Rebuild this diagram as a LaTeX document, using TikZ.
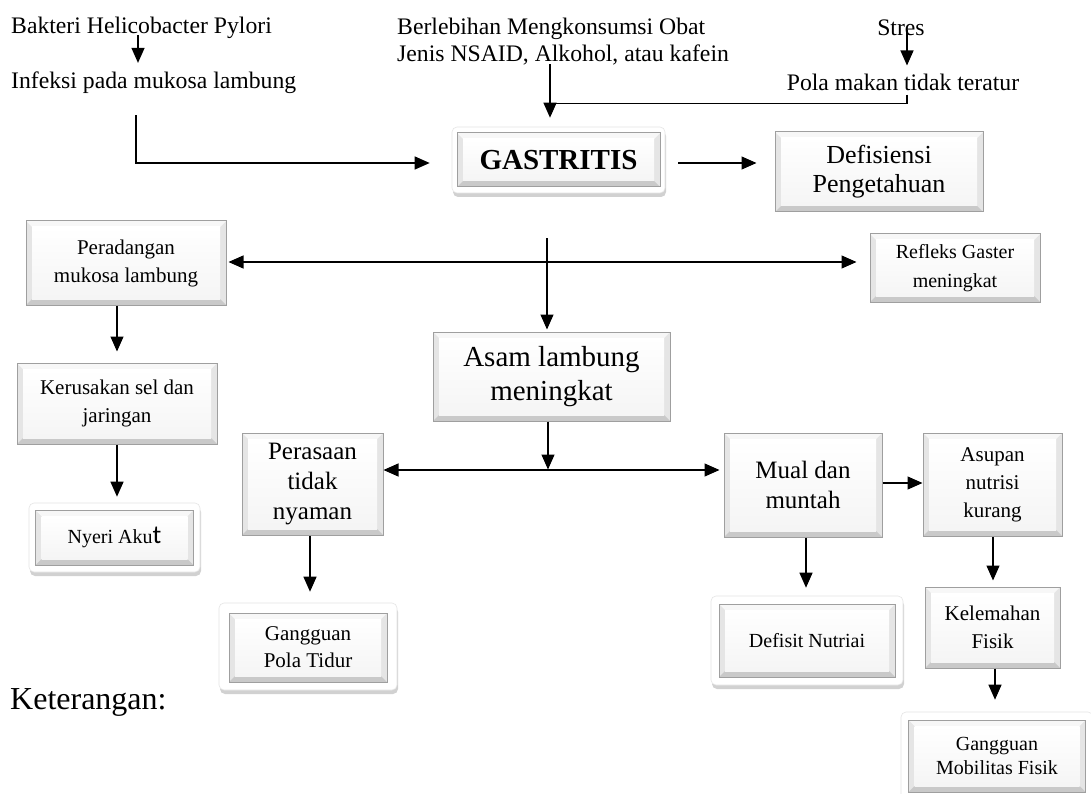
\documentclass[tikz,border=0pt]{standalone}
\usepackage{fontspec}
\setmainfont{Liberation Serif}
\newfontfamily\carl{Carlito}
\usetikzlibrary{arrows.meta,calc,shadows}
\begin{document}
\begin{tikzpicture}[x=1pt,y=-1pt,
  arr/.style={line width=1.2pt,-{Triangle[length=15pt,width=13pt]}},
  darr/.style={line width=1.2pt,{Triangle[length=15pt,width=13pt]}-{Triangle[length=15pt,width=13pt]}},
  ln/.style={line width=1.2pt},
  txt/.style={inner sep=0pt,font=\fontsize{23.7}{27}\selectfont},
  bev/.style={rectangle,draw=gray!75,line width=1pt,inner sep=0pt,align=center,
    path picture={
      \fill[gray!20] (path picture bounding box.south west) rectangle (path picture bounding box.north east);
      \fill[gray!42] (path picture bounding box.south west) -- (path picture bounding box.south east) -- ([shift={(-6pt,6pt)}]path picture bounding box.south east) -- ([shift={(6pt,6pt)}]path picture bounding box.south west) -- cycle;
      \fill[gray!6] (path picture bounding box.north west) -- (path picture bounding box.north east) -- ([shift={(-6pt,-6pt)}]path picture bounding box.north east) -- ([shift={(6pt,-6pt)}]path picture bounding box.north west) -- cycle;
      \shade[top color=white,bottom color=gray!8] ([shift={(6pt,6pt)}]path picture bounding box.south west) rectangle ([shift={(-6pt,-6pt)}]path picture bounding box.north east);
    }},
  frm/.style={rectangle,rounded corners=5pt,fill=white,draw=gray!20,line width=0.6pt,inner sep=0pt,
    drop shadow={shadow xshift=1pt,shadow yshift=-4pt,opacity=0.45,fill=gray!80}},
  f20/.style={font=\fontsize{20}{24}\selectfont},
  f21/.style={font=\fontsize{21}{28}\selectfont},
  f25/.style={font=\fontsize{25}{30}\selectfont},
]
\useasboundingbox (0,0) rectangle (1091,794);
\fill[white] (0,0) rectangle (1091,794);

% top texts
\node[txt,anchor=west] (bak) at (11,28) {Bakteri Helicobacter Pylori};
\node[txt,anchor=west] (inf) at (11,83) {Infeksi pada mukosa lambung};
\node[txt,anchor=west,align=left] (obat) at (397,41.5) {Berlebihan Mengkonsumsi Obat\\Jenis NSAID, Alkohol, atau kafein};
\node[txt] (stres) at (901,28) {Stres};
\node[txt] (pola) at (903,82) {Pola makan tidak teratur};

% GASTRITIS
\node[frm,minimum width=213pt,minimum height=66pt] (gasf) at (558.5,160) {};
\node[bev,minimum width=203pt,minimum height=54pt,font=\bfseries\fontsize{29}{34}\selectfont] (gas) at (558.5,160) {GASTRITIS};

% plain boxes
\node[bev,minimum width=208pt,minimum height=80pt,font=\fontsize{26}{29}\selectfont] (def) at (879,172) {Defisiensi\\Pengetahuan};
\node[bev,f21,minimum width=200pt,minimum height=84pt] (per) at (126,263) {Peradangan\\mukosa lambung};
\node[bev,minimum width=170pt,minimum height=68pt,font=\fontsize{20}{29}\selectfont] (ref) at (955,268) {Refleks Gaster\\meningkat};
\node[bev,f21,minimum width=200pt,minimum height=81pt] (ker) at (117,403.5) {Kerusakan sel dan\\jaringan};
\node[bev,minimum width=237pt,minimum height=89pt,font=\fontsize{29}{34}\selectfont] (asam) at (551.5,376.5) {Asam lambung\\meningkat};
\node[bev,f25,minimum width=141pt,minimum height=102pt] (pera) at (312.5,484) {Perasaan\\tidak\\nyaman};
\node[bev,f25,minimum width=158pt,minimum height=104pt] (mual) at (803,485) {Mual dan\\muntah};
\node[bev,f21,minimum width=139pt,minimum height=103pt] (asu) at (992.5,484.5) {Asupan\\nutrisi\\kurang};
\node[bev,f21,minimum width=135pt,minimum height=81pt] (kel) at (992.5,627.5) {Kelemahan\\Fisik};

% framed boxes
\node[frm,minimum width=171pt,minimum height=69pt] (nyf) at (114.5,537.5) {};
\node[bev,minimum width=158pt,minimum height=55pt,font=\fontsize{20}{24}\selectfont] (ny) at (114.5,537.5) {Nyeri Aku{\carl\fontsize{26}{26}\selectfont t}};
\node[frm,minimum width=178pt,minimum height=87pt] (gptf) at (308,646.5) {};
\node[bev,minimum width=158pt,minimum height=69pt,font=\fontsize{21}{27}\selectfont] (gpt) at (308,647.5) {Gangguan\\Pola Tidur};
\node[frm,minimum width=192pt,minimum height=89pt] (dnf) at (807,640.5) {};
\node[bev,f20,minimum width=176pt,minimum height=73pt] (dn) at (807,640.5) {Defisit Nutriai};
\node[frm,minimum width=192pt,minimum height=92pt] (gmf) at (997,758) {};
\node[bev,f20,minimum width=177pt,minimum height=72pt] (gm) at (997,756) {Gangguan\\Mobilitas Fisik};

% Keterangan
\node[txt,anchor=west,font=\fontsize{32}{36}\selectfont] (ket) at (10,702) {Keterangan:};

% connectors
\draw[arr] ($(bak.south west)+(127,-4)$) -- ($(inf.north west)+(127,-9)$);
\draw[arr] ($(inf.south west)+(125,21)$) |- ($(gasf.west)+(-22,3)$);
\draw[arr] ($(obat.south west)+(153,-1)$) -- ($(gasf.north)+(-8.5,-9)$);
\draw[arr] ($(stres.south)+(6,-6)$) -- ($(pola.north)+(4,-8)$);
\draw[ln] ($(pola.south)+(4,4)$) |- ($(gasf.north)+(-8.5,-23)$);
\draw[arr] ($(gasf.east)+(13,3)$) -- ($(def.west)+(-18,-9)$);
\draw[arr] ($(gasf.south)+(-11.5,45)$) -- ($(asam.north)+(-4.5,-2)$);
\draw[darr] ($(per.east)+(2,-1)$) -- ($(ref.west)+(-13,-6)$);
\draw[arr] (per.south -| ker.north) -- ($(ker.north)+(0,-11)$);
\draw[arr] (ker.south) -- ($(ker.south |- nyf.north)+(0,-6)$);
\draw[arr] ($(asam.south)+(-3.5,0)$) -- ($(asam.south)+(-3.5,48)$);
\draw[darr] ($(pera.east)+(0,-14)$) -- ($(mual.west)+(-4,-15)$);
\draw[arr] ($(pera.south)+(-2.5,0)$) -- ($(gptf.north)+(2,-11)$);
\draw[arr] ($(mual.east)+(0,-2)$) -- ($(asu.west)+(0,-1.5)$);
\draw[arr] ($(mual.south)+(3,0)$) -- ($(dnf.north)+(-1,-8)$);
\draw[arr] ($(asu.south)+(0.5,0)$) -- ($(kel.north)+(0.5,-6)$);
\draw[arr] ($(kel.south)+(2.5,0)$) -- ($(gmf.north)+(-2,-12)$);
\end{tikzpicture}
\end{document}
